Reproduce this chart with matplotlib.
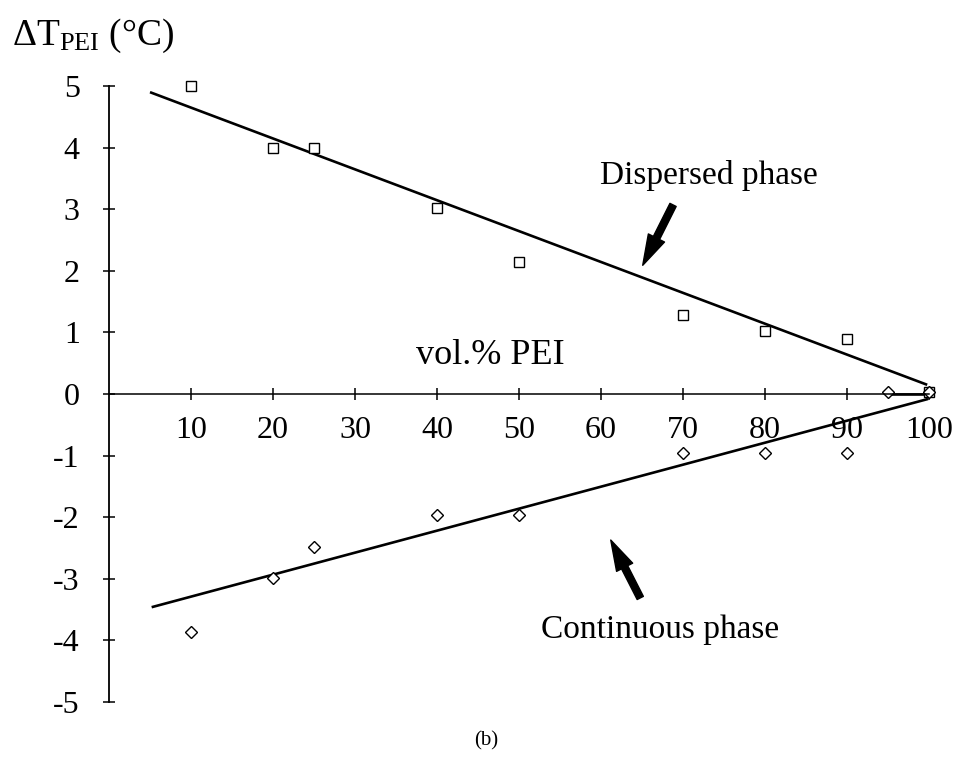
import matplotlib
matplotlib.use("Agg")
import matplotlib.pyplot as plt

plt.rcParams['font.family'] = ['Liberation Serif', 'DejaVu Serif']
plt.rcParams['mathtext.fontset'] = 'custom'
plt.rcParams['mathtext.rm'] = 'Liberation Serif'
plt.rcParams['mathtext.it'] = 'Liberation Serif:italic'

# Data
disp_x = [10, 20, 25, 40, 50, 70, 80, 90, 100]
disp_y = [5.0, 4.0, 4.0, 3.02, 2.14, 1.28, 1.02, 0.89, 0.03]
cont_x = [10, 20, 25, 40, 50, 70, 80, 90, 95, 100]
cont_y = [-3.86, -2.99, -2.48, -1.96, -1.96, -0.96, -0.96, -0.96, 0.03, 0.03]
disp_fit_x = [5.0, 99.8]
disp_fit_y = [4.9, 0.15]
cont_fit_x = [5.2, 99.9]
cont_fit_y = [-3.46, -0.08]
tail_x = [95, 100]
tail_y = [0.0, 0.0]
xticks = [10, 20, 30, 40, 50, 60, 70, 80, 90, 100]
yticks = [-5, -4, -3, -2, -1, 0, 1, 2, 3, 4, 5]

W, H = 970, 761
fig = plt.figure(figsize=(W / 100, H / 100), dpi=100)
ax = fig.add_axes([100 / W, (H - 715) / H, 860 / W, 645 / H])
ax.set_xlim(-1.1, 103.8)
ax.set_ylim(-5.21, 5.26)

for s in ['top', 'right']:
    ax.spines[s].set_visible(False)
ax.spines['left'].set_position(('data', 0))
ax.spines['bottom'].set_position(('data', 0))
ax.spines['left'].set_bounds(-5, 5)
ax.spines['bottom'].set_bounds(0, 100)
ax.spines['left'].set_linewidth(1.3)
ax.spines['bottom'].set_linewidth(1.1)

ax.set_xticks(xticks)
ax.set_xticklabels([str(t) for t in xticks])
ax.set_yticks(yticks)
ax.set_yticklabels([str(t) for t in yticks])
ax.tick_params(axis='x', direction='inout', length=9, width=1.1, labelsize=23, pad=11)
ax.tick_params(axis='y', direction='inout', length=8, width=1.1, labelsize=23, pad=17)
for lab in ax.get_yticklabels():
    lab.set_horizontalalignment('right')

ax.plot(disp_fit_x, disp_fit_y, color='black', lw=1.9, solid_capstyle='butt')
ax.plot(cont_fit_x, cont_fit_y, color='black', lw=1.9, solid_capstyle='butt')
ax.plot(tail_x, tail_y, color='black', lw=1.9)
ax.plot(disp_x, disp_y, linestyle='none', marker='s', markersize=7,
        markerfacecolor='white', markeredgecolor='black', markeredgewidth=1.0)
ax.plot(cont_x, cont_y, linestyle='none', marker='D', markersize=6,
        markerfacecolor='white', markeredgecolor='black', markeredgewidth=1.0)

arrow = dict(arrowstyle='simple,head_length=2.2,head_width=1.3,tail_width=0.5',
             color='black', shrinkA=0, shrinkB=0)
ax.annotate('', xy=(65.1, 2.09), xytext=(68.8, 3.07), arrowprops=arrow)
ax.annotate('', xy=(61.2, -2.37), xytext=(64.8, -3.31), arrowprops=arrow)

ax.text(73.2, 3.55, 'Dispersed phase', fontsize=24, ha='center', va='center')
ax.text(67.2, -3.82, 'Continuous phase', fontsize=24, ha='center', va='center')
ax.text(46.5, 0.62, 'vol.% PEI', fontsize=26, ha='center', va='center')

fig.text(12 / W, 1 - 36 / H, r'$\Delta\mathrm{T}_{\mathrm{PEI}}$ (°C)', fontsize=27,
         ha='left', va='center')
fig.text(486 / W, 1 - 741 / H, '(b)', fontsize=15, ha='center', va='center')

fig.savefig('out.png', dpi=100, facecolor='white')
